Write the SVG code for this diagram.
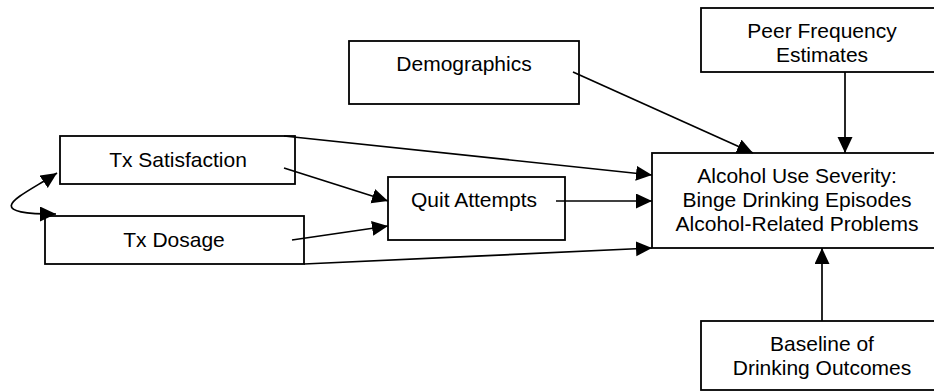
<svg xmlns="http://www.w3.org/2000/svg" width="934" height="392" viewBox="0 0 934 392">
<defs>
<style>
.box{fill:#fff;stroke:#000;stroke-width:1.8}
.t{font-family:"Liberation Sans",Arial,sans-serif;font-size:21px;fill:#000;text-anchor:middle}
.c{fill:none;stroke:#000;stroke-width:1.7}
</style>
<marker id="ah" markerUnits="userSpaceOnUse" markerWidth="17" markerHeight="16" refX="16" refY="7.5" orient="auto-start-reverse">
<path d="M0,0 L16,7.5 L0,15 Z" fill="#000"/>
</marker>
</defs>
<rect width="934" height="392" fill="#fff"/>
<g id="demographics"><rect class="box" x="349" y="41" width="230" height="63"/><text class="t" x="464" y="71">Demographics</text></g>
<g id="peer"><rect class="box" x="701" y="8" width="241" height="64"/><text class="t" x="822" y="38">Peer Frequency</text><text class="t" x="822" y="62">Estimates</text></g>
<g id="txsat"><rect class="box" x="60" y="136" width="235" height="48"/><text class="t" x="178" y="167">Tx Satisfaction</text></g>
<g id="txdos"><rect class="box" x="45" y="216" width="259" height="48"/><text class="t" x="174" y="247">Tx Dosage</text></g>
<g id="quit"><rect class="box" x="388" y="177" width="177" height="63"/><text class="t" x="474" y="207">Quit Attempts</text></g>
<g id="alcohol"><rect class="box" x="652" y="153" width="290" height="95"/><text class="t" x="797" y="183">Alcohol Use Severity:</text><text class="t" x="797" y="207">Binge Drinking Episodes</text><text class="t" x="797" y="231">Alcohol-Related Problems</text></g>
<g id="baseline"><rect class="box" x="701" y="321" width="241" height="69"/><text class="t" x="822" y="351">Baseline of</text><text class="t" x="822" y="375">Drinking Outcomes</text></g>
<g id="connectors">
<line class="c" x1="284" y1="136" x2="652" y2="175" marker-end="url(#ah)"/>
<line class="c" x1="284" y1="168" x2="388" y2="201" marker-end="url(#ah)"/>
<line class="c" x1="292" y1="240" x2="388" y2="226" marker-end="url(#ah)"/>
<line class="c" x1="304" y1="264" x2="652" y2="248" marker-end="url(#ah)"/>
<line class="c" x1="556" y1="201" x2="652" y2="201" marker-end="url(#ah)"/>
<line class="c" x1="573" y1="72" x2="753" y2="153" marker-end="url(#ah)"/>
<line class="c" x1="845" y1="72" x2="845" y2="153" marker-end="url(#ah)"/>
<line class="c" x1="822" y1="321" x2="822" y2="248" marker-end="url(#ah)"/>
<path class="c" d="M57,173 C22,196 -25,214 56,214" marker-start="url(#ah)" marker-end="url(#ah)"/>
</g>
</svg>
